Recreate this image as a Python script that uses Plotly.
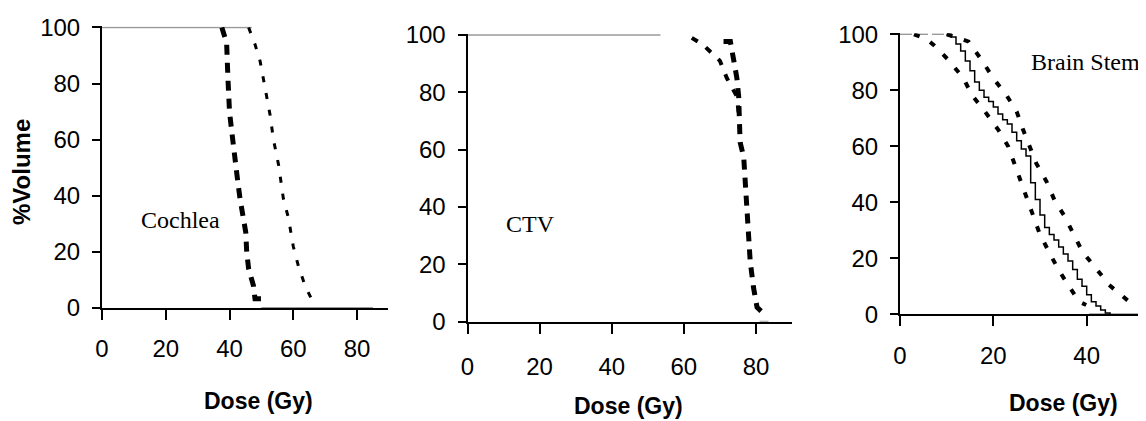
import plotly.graph_objects as go

# The page body has the browser's default 8px margin, so the figure is
# sized to the remaining window and positions are given in page pixels.
PAGE_W, PAGE_H = 1146, 421
OFF = 8
W, H = PAGE_W - OFF, PAGE_H - OFF

# ---------------- data ----------------
# Panel 1: Cochlea
coch_plateau_x = [0, 47]
coch_plateau_y = [100, 100]
coch_tail_x = [50, 85]
coch_tail_y = [0, 0]
coch_low_dose = [37.6, 39.1, 39.5, 40.0, 40.7, 41.8, 42.6, 43.3, 45.1, 45.4, 46.0, 47.5, 48.0, 50.0]
coch_low_vol = [100, 94.5, 82, 70, 63, 51, 45, 39, 27, 20, 14, 8, 3.3, 3.3]
coch_high_dose = [46.0, 48.0, 49.6, 51.7, 52.7, 53.8, 55.4, 56.9, 58.5, 60.0, 61.6, 63.7, 65.8]
coch_high_vol = [100, 94, 88, 75.5, 69, 60, 51, 39, 32, 22, 15, 8, 3]

# Panel 2: CTV
ctv_plateau_x = [0, 53.5]
ctv_plateau_y = [100, 100]
ctv_tail_x = [81, 83.5]
ctv_tail_y = [0, 0]
ctv_main_dose = [71.0, 72.9, 73.8, 74.7, 75.2, 75.6, 76.6, 77.0, 77.5, 77.9, 78.4, 79.3, 80.3, 82.0]
ctv_main_vol = [97.7, 97.7, 91.4, 85, 78.6, 62.6, 57.4, 48, 42, 30.7, 21, 12, 5, 3]
ctv_low_dose = [62.2, 65.4, 70.0, 71.9, 74.7, 75.2]
ctv_low_vol = [99, 96.5, 91, 85, 78.6, 72.7]

# Panel 3: Brain Stem
bs_plateau_x = [0, 10]
bs_plateau_y = [100, 100]
bs_tail_x = [40.5, 52.7]
bs_tail_y = [0, 0]
bs_mean_dose = [10, 11, 12, 13, 14, 15, 16, 17, 18, 19, 20, 21, 22, 23, 24, 25, 26, 27,
                28, 29, 30, 31, 32, 33, 34, 35, 36, 37, 38, 39, 40, 41, 42, 43, 44, 45]
bs_mean_vol = [100, 99, 96.5, 94, 90.5, 87, 83, 80, 77.5, 76, 74, 71.5, 69.5, 68, 65, 62, 59, 56.5,
               47, 41, 35.5, 31, 28.5, 26.5, 24, 21.5, 19, 16, 12.5, 10, 7, 4.5, 3, 1.5, 0.5, 0]
bs_low_dose = [3.0, 5.8, 7.2, 10.4, 13.6, 15.4, 18.2, 21.1, 23.2, 25.7, 27.4, 28.5, 29.9, 31.7, 33.8, 36.0, 38.4, 39.9]
bs_low_vol = [100, 98.2, 96.2, 90.8, 84.3, 78.3, 72.4, 65.8, 59.9, 48, 40.8, 34.9, 28.9, 23, 16.4, 10.5, 4.5, 3.3]
bs_high_dose = [10.0, 14.7, 17.5, 20.0, 22.8, 25.0, 26.4, 27.8, 29.2, 31.4, 33.1, 35.3, 37.0, 39.1, 42.0, 44.8, 49.1, 50.5]
bs_high_vol = [100, 97.4, 90.8, 84.3, 78.3, 72.4, 65.8, 59.9, 53.9, 47.4, 40.8, 34.9, 28.9, 22.3, 16.4, 10.5, 4.5, 3.3]

x_ticks = [0, 20, 40, 60, 80]
y_ticks = [0, 20, 40, 60, 80, 100]

# ---------------- figure ----------------
fig = go.Figure()
GRAY = "#9a9a9a"


def add(x, y, ax, width, dash="solid", color="black", shape="linear"):
    fig.add_trace(go.Scatter(x=x, y=y, mode="lines", xaxis=ax[0], yaxis=ax[1],
                             line=dict(color=color, width=width, dash=dash, shape=shape),
                             showlegend=False, hoverinfo="skip"))


# panel 1
a1 = ("x", "y")
add(coch_plateau_x, coch_plateau_y, a1, 1.5, color=GRAY)
add(coch_tail_x, coch_tail_y, a1, 2, color=GRAY)
add(coch_low_dose, coch_low_vol, a1, 5, dash="10px,8px")
add(coch_high_dose, coch_high_vol, a1, 3, dash="6px,11px")
# panel 2
a2 = ("x2", "y2")
add(ctv_plateau_x, ctv_plateau_y, a2, 1.5, color=GRAY)
add(ctv_tail_x, ctv_tail_y, a2, 2, color=GRAY)
add(ctv_low_dose, ctv_low_vol, a2, 4, dash="7px,10px")
add(ctv_main_dose, ctv_main_vol, a2, 5, dash="10px,8px")
# panel 3
a3 = ("x3", "y3")
add(bs_plateau_x, bs_plateau_y, a3, 1.5, color=GRAY, dash="12px,4px")
add(bs_tail_x, bs_tail_y, a3, 2, color=GRAY)
add(bs_low_dose, bs_low_vol, a3, 4, dash="6px,12px")
add(bs_high_dose, bs_high_vol, a3, 4, dash="6px,12px")
add(bs_mean_dose, bs_mean_vol, a3, 1.5, shape="hv")


def fx(px):
    return (px - OFF) / W


def fy(py):
    return 1 - (py - OFF) / H


tickfont = dict(family="Liberation Sans, Arial", size=24, color="black")
common_x = dict(tickvals=x_ticks, ticks="outside", ticklen=10, tickwidth=2, tickcolor="black",
                showline=True, linewidth=2, linecolor="black", showgrid=False, zeroline=False,
                tickfont=tickfont, fixedrange=True, automargin=False)
common_y = dict(tickvals=y_ticks, ticks="outside", ticklen=8, tickwidth=2, tickcolor="black",
                showline=True, linewidth=2, linecolor="black", showgrid=False, zeroline=False,
                tickfont=tickfont, fixedrange=True, automargin=False)

# panel geometry in page pixels: (x0 px, px per Gy, right px, y0 px, px per %, x-label standoff)
panels = [
    (102.0, 3.1875, 388.0, 308.0, 2.805, 8),
    (467.5, 3.606, 792.0, 321.7, 2.867, 12),
    (900.0, 4.667, 1146.0, 314.3, 2.80, 9),
]
ytop = 100.4
layout_axes = {}
for i, (x0, sx, xr, y0, sy, so) in enumerate(panels):
    n = "" if i == 0 else str(i + 1)
    layout_axes["xaxis" + n] = dict(common_x, domain=[fx(x0), min(1.0, fx(xr))],
                                    range=[0, (xr - x0) / sx], anchor="y" + n,
                                    ticklabelstandoff=so)
    layout_axes["yaxis" + n] = dict(common_y, domain=[fy(y0), fy(y0 - ytop * sy)],
                                    range=[0, ytop], anchor="x" + n,
                                    ticklabelstandoff=7)

titlefont = dict(family="Liberation Sans, Arial", size=23, color="black")
serif = dict(family="Liberation Serif, Times New Roman", size=24, color="black")
annotations = [
    dict(text="<b>Dose (Gy)</b>", x=fx(258), y=fy(401), font=titlefont),
    dict(text="<b>Dose (Gy)</b>", x=fx(628), y=fy(406), font=titlefont),
    dict(text="<b>Dose (Gy)</b>", x=fx(1063), y=fy(403), font=titlefont),
    dict(text="<b>%Volume</b>", x=fx(22), y=fy(172), font=dict(titlefont, size=24), textangle=-90),
    dict(text="Cochlea", x=fx(180), y=fy(220), font=serif),
    dict(text="CTV", x=fx(530), y=fy(224), font=serif),
    dict(text="Brain Stem", x=fx(1029), y=fy(62), font=serif, xanchor="left"),
]
for a in annotations:
    a.update(xref="paper", yref="paper", showarrow=False)
    a.setdefault("xanchor", "center")
    a.setdefault("yanchor", "middle")

fig.update_layout(width=W, height=H, margin=dict(l=0, r=0, t=0, b=0, autoexpand=False),
                  paper_bgcolor="white", plot_bgcolor="white",
                  annotations=annotations, **layout_axes)

fig.write_html("out.html")
